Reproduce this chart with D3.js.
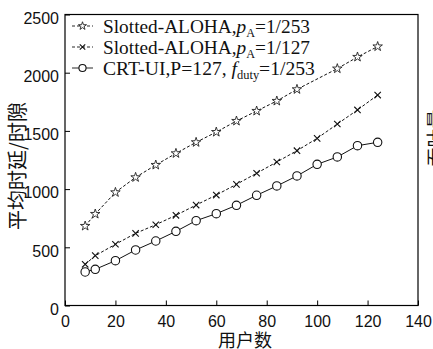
<!DOCTYPE html>
<html>
<head>
<meta charset="utf-8">
<script src="https://cdn.jsdelivr.net/npm/d3@7"></script>
<style>
  body { margin: 0; background: #fff; }
  svg { display: block; }
</style>
</head>
<body>
<div id="chart"></div>
<script>
// data
var starX = [8, 12, 20, 28, 36, 44, 52, 60, 68, 76, 84, 92, 108, 116, 124];
var starY = [683, 786, 972, 1101, 1207, 1307, 1402, 1490, 1585, 1671, 1757, 1857, 2035, 2135, 2225];
var crossX = [8, 12, 20, 28, 36, 44, 52, 60, 68, 76, 84, 92, 100, 108, 116, 124];
var crossY = [354, 428, 526, 620, 694, 775, 863, 949, 1041, 1136, 1233, 1330, 1436, 1559, 1680, 1808];
var circX = [8, 12, 20, 28, 36, 44, 52, 60, 68, 76, 84, 92, 100, 108, 116, 124];
var circY = [288, 311, 385, 477, 554, 637, 729, 789, 861, 947, 1027, 1113, 1213, 1276, 1373, 1402];
var xTicks = [0, 20, 40, 60, 80, 100, 120, 140];
var yTicks = [0, 500, 1000, 1500, 2000, 2500];

var W = 433, H = 349;
var m = {left: 65, right: 418, top: 14.5, bottom: 305.5};

var svg = d3.select("#chart").append("svg")
    .attr("width", W)
    .attr("height", H);

var x = d3.scaleLinear().domain([0, 140]).range([m.left, m.right]);
var y = d3.scaleLinear().domain([0, 2500]).range([m.bottom, m.top]);

// frame
svg.append("rect")
    .attr("x", m.left).attr("y", m.top)
    .attr("width", m.right - m.left).attr("height", m.bottom - m.top)
    .attr("fill", "none").attr("stroke", "#000").attr("stroke-width", 1.2);

// axes, ticks pointing in
var xAxis = svg.append("g")
    .attr("transform", "translate(0," + m.bottom + ")")
    .call(d3.axisBottom(x).tickValues(xTicks).tickFormat(d3.format("d"))
      .tickSizeInner(-5).tickSizeOuter(0).tickPadding(9));
var yAxis = svg.append("g")
    .attr("transform", "translate(" + m.left + ",0)")
    .call(d3.axisLeft(y).tickValues(yTicks).tickFormat(d3.format("d"))
      .tickSizeInner(-5).tickSizeOuter(0).tickPadding(6));

[xAxis, yAxis].forEach(function(g) {
  g.select(".domain").remove();
  g.selectAll("line").attr("stroke", "#000");
  g.selectAll("text")
    .attr("fill", "#111")
    .style("font-family", "'Liberation Sans', Arial, sans-serif")
    .style("font-size", "16px");
});
yAxis.selectAll("text").attr("dy", "0.55em");
xAxis.selectAll("text").attr("dy", "0.75em");

// series
var series = [
  {xs: starX, ys: starY, mark: "star", dash: "3,2"},
  {xs: crossX, ys: crossY, mark: "cross", dash: "3,2"},
  {xs: circX, ys: circY, mark: "circle", dash: null}
];

var line = d3.line()
    .x(function(d) { return x(d[0]); })
    .y(function(d) { return y(d[1]); });

function drawMark(g, kind, cx, cy, sc) {
  sc = sc || 1;
  if (kind == "star") {
    g.append("path")
      .attr("d", d3.symbol().type(d3.symbolStar).size(28 * sc * sc)())
      .attr("transform", "translate(" + cx + "," + cy + ")")
      .attr("fill", "#fff").attr("stroke", "#222").attr("stroke-width", 0.9);
  } else if (kind == "cross") {
    var r = 3.2 * sc;
    g.append("path")
      .attr("d", "M" + (-r) + "," + (-r) + "L" + r + "," + r + "M" + (-r) + "," + r + "L" + r + "," + (-r))
      .attr("transform", "translate(" + cx + "," + cy + ")")
      .attr("stroke", "#111").attr("stroke-width", 1.1);
  } else {
    g.append("circle")
      .attr("cx", cx).attr("cy", cy).attr("r", 4.2 * sc)
      .attr("fill", "#fff").attr("stroke", "#111").attr("stroke-width", 1.1);
  }
}

series.forEach(function(s) {
  var pts = s.xs.map(function(v, i) { return [v, s.ys[i]]; });
  svg.append("path")
    .datum(pts)
    .attr("d", line)
    .attr("fill", "none")
    .attr("stroke", "#111")
    .attr("stroke-width", 1)
    .attr("stroke-dasharray", s.dash);
  var g = svg.append("g");
  pts.forEach(function(p) { drawMark(g, s.mark, x(p[0]), y(p[1])); });
});

// legend
var legRows = [26, 47, 68];
var legEnds = [310, 310, 315];
var legFont = "'Liberation Serif', 'Times New Roman', serif";
series.forEach(function(s, i) {
  var ly = legRows[i];
  svg.append("line")
    .attr("x1", 72).attr("x2", 93).attr("y1", ly).attr("y2", ly)
    .attr("stroke", "#111").attr("stroke-width", 0.9)
    .attr("stroke-dasharray", s.dash);
  drawMark(svg, s.mark, 82.5, ly, 0.85);
});

function legendText(row, parts) {
  var g = svg.append("g");
  var t = g.append("text")
    .attr("x", 0).attr("y", 0)
    .style("font-family", legFont)
    .style("font-size", "19px")
    .attr("fill", "#111");
  parts.forEach(function(p) {
    var ts = t.append("tspan").text(p.t);
    if (p.it) ts.style("font-style", "italic");
    if (p.sub) ts.attr("dy", 4).style("font-size", "12px");
    if (p.up) ts.attr("dy", -4);
  });
  // stretch to the width seen in the figure
  var w = t.node().getComputedTextLength();
  var k = (legEnds[row] - 103) / w;
  g.attr("transform", "translate(103," + (legRows[row] + 6.5) + ") scale(" + k + ",1)");
}
legendText(0, [{t: "Slotted-ALOHA,"}, {t: "p", it: true}, {t: "A", sub: true}, {t: "=1/253", up: true}]);
legendText(1, [{t: "Slotted-ALOHA,"}, {t: "p", it: true}, {t: "A", sub: true}, {t: "=1/127", up: true}]);
legendText(2, [{t: "CRT-UI,P=127, "}, {t: "f", it: true}, {t: "duty", sub: true}, {t: "=1/253", up: true}]);

// axis titles
var cjk = "'Noto Sans CJK SC', sans-serif";
svg.append("text")
    .attr("x", 245).attr("y", 347)
    .attr("text-anchor", "middle")
    .style("font-family", cjk).style("font-size", "18px")
    .attr("fill", "#111")
    .text("用户数");
svg.append("text")
    .attr("transform", "translate(25,166) rotate(-90)")
    .attr("text-anchor", "middle")
    .style("font-family", cjk).style("font-size", "20px")
    .attr("fill", "#111")
    .text("平均时延/时隙");
// right-hand title, cut off by the page edge
svg.append("text")
    .attr("transform", "translate(443,138) rotate(-90)")
    .attr("text-anchor", "middle")
    .style("font-family", cjk).style("font-size", "19px")
    .attr("fill", "#111")
    .text("吞吐量");
</script>
</body>
</html>
